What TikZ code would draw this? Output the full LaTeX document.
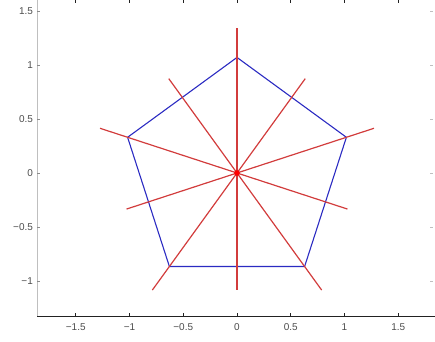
\documentclass[tikz,border=0pt]{standalone}
\usepackage{fontspec}
\setmainfont{Liberation Sans}
\usepackage{xcolor}
\definecolor{PentBlue}{HTML}{2B2BC2}
\definecolor{AxisRed}{HTML}{D23C3C}
\definecolor{Ink}{HTML}{222222}

\begin{document}
\begin{tikzpicture}[x=107.5bp,y=108bp,
    pent/.style={draw=PentBlue,line width=1.1bp,line join=round},
    sym/.style={draw=AxisRed,line width=1.2bp},
    spine/.style={draw=Ink,line width=0.9bp},
    faint/.style={draw=black!25,line width=0.6bp},
    tickmark/.style={draw=Ink,line width=0.6bp},
    ticklbl/.style={font=\fontsize{10}{10}\selectfont,text=black!70,inner sep=0pt}
  ]
    \useasboundingbox (-2.2047,-1.5556) rectangle (1.8419,1.6019);
    % axes box
    \coordinate (ll) at (-1.86,-1.324);
    \coordinate (lr) at (1.842,-1.324);
    \coordinate (ul) at (-1.86,1.602);
    \draw[faint] (ll) -- (ul);
    \draw[spine] (ll) -- (lr);
    \foreach \t/\s in {-1.5/{−1.5},-1/{−1},-0.5/{−0.5},0/{0},0.5/{0.5},1/{1},1.5/{1.5}} {
      \draw[tickmark] (\t,-1.324) -- ++(0,3bp);
      \draw[tickmark] (\t,1.602) -- ++(0,-3bp);
      \node[ticklbl] (xl\t) at (\t,-1.324) [yshift=-11bp] {\s};
    }
    \foreach \t/\s in {-1/{−1},-0.5/{−0.5},0/{0},0.5/{0.5},1/{1},1.5/{1.5}} {
      \draw[tickmark,draw=black!45] (-1.86,\t) -- ++(3bp,0);
      \draw[faint] (1.823,\t) -- ++(-3bp,0);
      \node[ticklbl,anchor=east] (yl\t) at (-1.86,\t) [xshift=-4bp] {\s};
    }
    % pentagon
    \foreach \i in {0,...,4} \coordinate (v\i) at ({90+72*\i}:1.07);
    \draw[pent] (v0) -- (v1) -- (v2) -- (v3) -- (v4) -- cycle;
    % symmetry axes
    \foreach \i in {0,...,4} {
      \coordinate (a\i) at ({90+72*\i}:1.34);
      \coordinate (b\i) at ({270+72*\i}:1.08);
      \draw[sym] (a\i) -- (b\i);
    }
    \coordinate (c) at (0,0);
    \fill[red] (c) circle (2.8bp);
  \end{tikzpicture}
\end{document}
